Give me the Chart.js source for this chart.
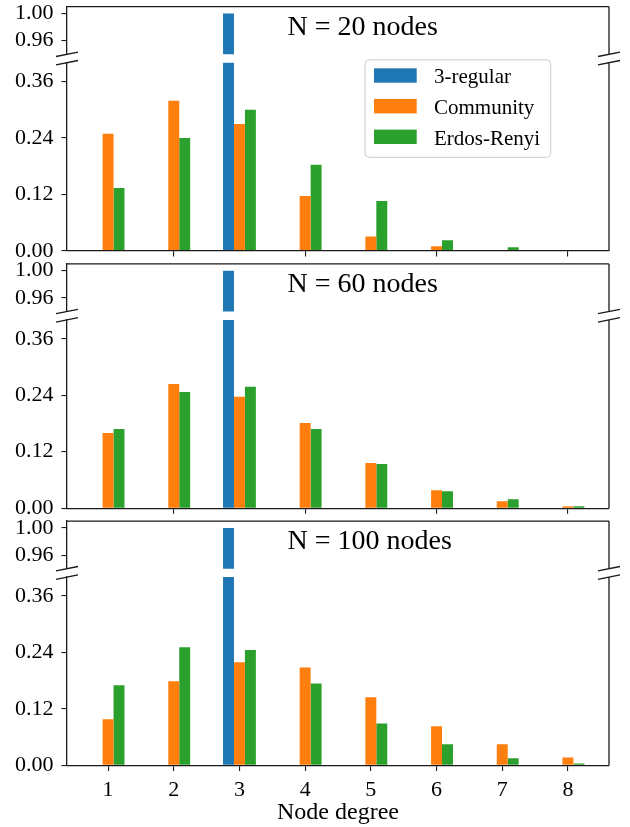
<!DOCTYPE html>
<html>
<head>
<meta charset="utf-8">
<script src="https://cdn.jsdelivr.net/npm/chart.js@4.4.1/dist/chart.umd.min.js"></script>
<style>
  html, body { margin: 0; padding: 0; background: #fff; }
  #fig { position: relative; width: 630px; height: 827px; }
  #fig canvas { position: absolute; left: 0; top: 0; }
</style>
</head>
<body>
<div id="fig"></div>
<script>
// ========= data =========
const degrees = [1, 2, 3, 4, 5, 6, 7, 8];
const seriesNames = ["3-regular", "Community", "Erdos-Renyi"];
const seriesColors = ["#1f77b4", "#ff7f0e", "#2ca02c"];
const panelTitles = ["N = 20 nodes", "N = 60 nodes", "N = 100 nodes"];

const regular20   = [0, 0, 1.00, 0, 0, 0, 0, 0];
const community20 = [0.249, 0.319, 0.270, 0.117, 0.031, 0.010, 0, 0];
const erdos20     = [0.134, 0.240, 0.300, 0.183, 0.106, 0.023, 0.008, 0];

const regular60   = [0, 0, 1.00, 0, 0, 0, 0, 0];
const community60 = [0.160, 0.264, 0.237, 0.181, 0.096, 0.038, 0.015, 0.004];
const erdos60     = [0.168, 0.247, 0.258, 0.168, 0.094, 0.036, 0.019, 0.004];

const regular100   = [0, 0, 1.00, 0, 0, 0, 0, 0];
const community100 = [0.098, 0.179, 0.219, 0.208, 0.145, 0.083, 0.045, 0.017];
const erdos100     = [0.170, 0.251, 0.245, 0.174, 0.089, 0.045, 0.015, 0.004];

const upperTicks = [0.96, 1.00];
const lowerTicks = [0.00, 0.12, 0.24, 0.36];
const upperRange = [0.94, 1.01];
const lowerRange = [0, 0.40];
const xRange = [0.375, 8.625];
const sharedXTicks = [2, 4, 6, 8];   // tick marks under the first two panels

const panelData = [
  [regular20, community20, erdos20],
  [regular60, community60, erdos60],
  [regular100, community100, erdos100]
];

// ========= layout =========
const W = 630, H = 827;
const AX_LEFT = 67, AX_RIGHT = 609;
const PANEL_STEP = 257.2;
const UPPER_BOX = [6.7, 54.3];
const LOWER_BOX = [62.7, 251];
const SPINE = "#1a1a1a";

Chart.defaults.font.family = "'Liberation Serif', 'DejaVu Serif', serif";
Chart.defaults.font.size = 22;
Chart.defaults.color = "#000";

const fig = document.getElementById("fig");

function addCanvas() {
  const c = document.createElement("canvas");
  c.width = W; c.height = H;
  c.style.width = W + "px"; c.style.height = H + "px";
  fig.appendChild(c);
  return c;
}

function buildDatasets(p) {
  return panelData[p].map((vals, i) => ({
    label: seriesNames[i],
    data: degrees.map((d, k) => ({ x: d, y: vals[k] })),
    backgroundColor: seriesColors[i],
    borderWidth: 0,
    categoryPercentage: 0.5,
    barPercentage: 1,
    clip: 0
  }));
}

// spines, break marks, panel title, legend
const framePlugin = {
  id: "frame",
  afterDraw(chart, args, opts) {
    const { ctx, chartArea: a } = chart;
    ctx.save();
    ctx.strokeStyle = SPINE;
    ctx.lineWidth = 1.3;
    ctx.beginPath();
    ctx.moveTo(a.right, a.top); ctx.lineTo(a.right, a.bottom);
    if (opts.part === "upper") { ctx.moveTo(a.left, a.top); ctx.lineTo(a.right, a.top); }
    const y = opts.part === "upper" ? a.bottom : a.top;
    [a.left, a.right].forEach(x => { ctx.moveTo(x - 11, y + 2.2); ctx.lineTo(x + 11, y - 2.2); });
    ctx.stroke();

    if (opts.title) {
      ctx.fillStyle = "#000";
      ctx.font = "28px 'Liberation Serif', serif";
      ctx.textAlign = "left";
      ctx.textBaseline = "alphabetic";
      ctx.fillText(opts.title, 287.5, a.top + 28.3);
    }

    if (opts.legend) {
      const bx = 365, by = 59.8, bw = 185.7, bh = 97.5;
      ctx.fillStyle = "rgba(255,255,255,0.8)";
      ctx.strokeStyle = "#cccccc";
      ctx.lineWidth = 1;
      ctx.beginPath();
      ctx.roundRect(bx, by, bw, bh, 4);
      ctx.fill(); ctx.stroke();
      ctx.font = "21px 'Liberation Serif', serif";
      ctx.textAlign = "left";
      ctx.textBaseline = "alphabetic";
      chart.data.datasets.forEach((ds, i) => {
        const cy = 75.5 + i * 30.65;
        ctx.fillStyle = ds.backgroundColor;
        ctx.fillRect(374, cy - 7.2, 42.7, 14.4);
        ctx.fillStyle = "#000";
        ctx.fillText(ds.label, 434, cy + 7.8);
      });
    }
    ctx.restore();
  }
};

function yScale(range, ticks) {
  return {
    type: "linear",
    min: range[0], max: range[1],
    beginAtZero: false,
    grid: { display: true, drawOnChartArea: false, drawTicks: true, tickLength: 5.5, color: SPINE, lineWidth: 1.1 },
    border: { display: true, color: SPINE, width: 1.3, z: 1 },
    ticks: { padding: 8, font: { size: 22 }, callback: v => Number(v).toFixed(2) },
    afterBuildTicks: s => { s.ticks = ticks.map(v => ({ value: v })); },
    afterFit: s => { s.width = AX_LEFT; s.paddingTop = 0; s.paddingBottom = 0; }
  };
}

function makeUpper(p) {
  const dy = PANEL_STEP * p;
  const top = UPPER_BOX[0] + dy, bottom = UPPER_BOX[1] + dy;
  return new Chart(addCanvas(), {
    type: "bar",
    data: { datasets: buildDatasets(p) },
    options: {
      responsive: false, animation: false, devicePixelRatio: 1,
      layout: { padding: { left: 0, right: W - AX_RIGHT, top: top, bottom: H - bottom } },
      plugins: { legend: { display: false }, tooltip: { enabled: false },
                 frame: { part: "upper", title: panelTitles[p] } },
      scales: {
        x: { type: "linear", display: false, min: xRange[0], max: xRange[1], offset: false, grid: { offset: false } },
        y: yScale(upperRange, upperTicks)
      }
    },
    plugins: [framePlugin]
  });
}

function makeLower(p) {
  const dy = PANEL_STEP * p;
  const top = LOWER_BOX[0] + dy, bottom = LOWER_BOX[1] + dy;
  const last = p === panelData.length - 1;
  return new Chart(addCanvas(), {
    type: "bar",
    data: { datasets: buildDatasets(p) },
    options: {
      responsive: false, animation: false, devicePixelRatio: 1,
      layout: { padding: { left: 0, right: W - AX_RIGHT, top: top, bottom: 0 } },
      plugins: { legend: { display: false }, tooltip: { enabled: false },
                 frame: { part: "lower", legend: p === 0 } },
      scales: {
        x: {
          type: "linear", min: xRange[0], max: xRange[1], offset: false,
          grid: { display: true, offset: false, drawOnChartArea: false, drawTicks: true, tickLength: 5.5, color: SPINE, lineWidth: 1.1 },
          border: { display: true, color: SPINE, width: 1.3, z: 1 },
          ticks: { display: last, padding: 6, font: { size: 22 }, maxRotation: 0, autoSkip: false, callback: v => String(v) },
          title: { display: last, text: "Node degree", font: { size: 24 }, padding: { top: 0, bottom: 0 } },
          afterBuildTicks: s => { s.ticks = (last ? degrees : sharedXTicks).map(v => ({ value: v })); },
          afterFit: s => { s.height = H - bottom; s.paddingLeft = 0; s.paddingRight = 0; }
        },
        y: yScale(lowerRange, lowerTicks)
      }
    },
    plugins: [framePlugin]
  });
}

panelTitles.forEach((t, p) => { makeUpper(p); makeLower(p); });
</script>
</body>
</html>
